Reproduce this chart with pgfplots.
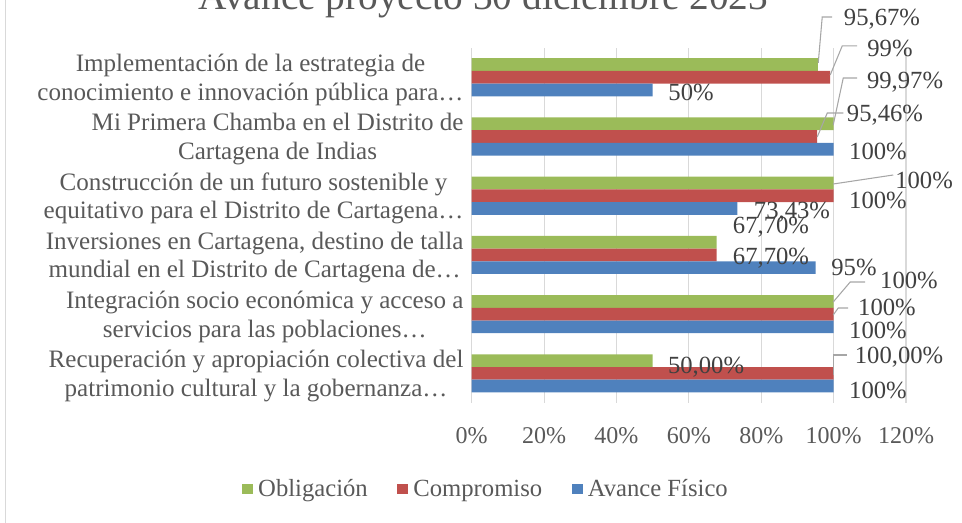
\documentclass[border=0pt]{standalone}
\usepackage{fontspec}
\setmainfont{Liberation Serif}
\usepackage{pgfplots}
\pgfplotsset{compat=1.18}
\definecolor{cG}{HTML}{9BBB59}
\definecolor{cR}{HTML}{C0504D}
\definecolor{cB}{HTML}{4F81BD}
\definecolor{txt}{HTML}{595959}
\definecolor{lbl}{HTML}{404040}
\definecolor{grd}{HTML}{D9D9D9}
\definecolor{lead}{HTML}{A6A6A6}
\begin{document}
\begin{tikzpicture}[x=1pt,y=1pt]
\useasboundingbox (0,0) rectangle (721.5,392.25);
\draw[grd, line width=1.1pt] (4.1,0) -- (4.1,392.25);
\node[anchor=base, text=txt, font=\fontsize{29.5}{35}\selectfont] at (362.6,385.1) {Avance proyecto 30 diciembre 2023};
\begin{axis}[
  at={(353.8pt,90pt)}, anchor=south west,
  scale only axis, width=325.7pt, height=266.5pt,
  xmin=0, xmax=120, ymin=-0.5, ymax=5.5,
  clip=false,
  axis line style={draw=none},
  major tick length=0pt,
  xtick={0,20,40,60,80,100,120},
  xticklabels={0\%,20\%,40\%,60\%,80\%,100\%,120\%},
  xmajorgrids, grid style={grd, line width=0.8pt},
  xticklabel style={anchor=center, yshift=-24.5pt, text=txt, font=\fontsize{18}{21}\selectfont},
  ytick={0,1,2,3,4,5},
  yticklabels={
    {Recuperación y apropiación colectiva del\\patrimonio cultural y la gobernanza…},
    {Integración socio económica y acceso a\\servicios para las poblaciones…},
    {Inversiones en Cartagena, destino de talla\\mundial en el Distrito de Cartagena de…},
    {Construcción de un futuro sostenible y\\equitativo para el Distrito de Cartagena…},
    {Mi Primera Chamba en el Distrito de\\Cartagena de Indias},
    {Implementación de la estrategia de\\conocimiento e innovación pública para…}},
  yticklabel style={align=center, text=txt, inner xsep=6pt, yshift=-2pt, font=\fontsize{18.8}{21.5}\selectfont},
  legend columns=3,
  legend image code/.code={\fill[#1] (0pt,-4.1pt) rectangle (8.2pt,4.1pt);},
  legend style={draw=none, fill=none, at={(0.0364,-0.242)}, anchor=center,
    font=\fontsize{18.5}{21}\selectfont, text=txt,
    nodes={inner xsep=4pt},
    /tikz/every even column/.append style={column sep=18pt}},
]
\addplot[xbar, bar width=0.2145, bar shift=0.2145, fill=cG, draw=none] coordinates {(50,0) (100,1) (67.70,2) (100,3) (99.97,4) (95.67,5)};
\addlegendentry{Obligación}
\addplot[xbar, bar width=0.2145, bar shift=0, fill=cR, draw=none] coordinates {(100,0) (100,1) (67.70,2) (100,3) (95.46,4) (99,5)};
\addlegendentry{Compromiso}
\addplot[xbar, bar width=0.2145, bar shift=-0.2145, fill=cB, draw=none] coordinates {(100,0) (100,1) (95,2) (73.43,3) (100,4) (50,5)};
\addlegendentry{Avance Físico}
% leader lines
\draw[lead, line width=0.8pt] (axis cs:95.75,5.242) -- (axis cs:96.85,6.018) -- (axis cs:99.61,6.018);
\draw[lead, line width=0.8pt] (axis cs:99.06,5.039) -- (axis cs:102.37,5.529) -- (axis cs:106.52,5.529);
\draw[lead, line width=0.8pt] (axis cs:99.89,4.195) -- (axis cs:102.66,4.988) -- (axis cs:106.52,4.988);
\draw[lead, line width=0.8pt] (axis cs:95.47,3.992) -- (axis cs:98.24,4.397) -- (axis cs:102.66,4.397);
\draw[lead, line width=0.8pt] (axis cs:99.89,3.198) -- (axis cs:116.47,3.350);
\draw[lead, line width=0.8pt] (axis cs:99.89,1.206) -- (axis cs:104.58,1.543) -- (axis cs:108.73,1.543);
\draw[lead, line width=0.8pt] (axis cs:99.89,0.986) -- (axis cs:101.27,1.104) -- (axis cs:104.03,1.104);
\draw[lead, line width=0.8pt] (axis cs:99.89,-0.027) -- (axis cs:99.89,0.311) -- (axis cs:103.7,0.311);
% data labels
\addplot[forget plot, draw=none, mark=none,
  nodes near coords, point meta=explicit symbolic,
  nodes near coords style={anchor=center, text=lbl, font=\fontsize{18.5}{21}\selectfont, inner sep=0pt}]
coordinates {
 (113.37,5.985) [95,67\%]
 (115.58,5.495) [99\%]
 (60.60,4.752) [50\%]
 (119.73,4.921) [99,97\%]
 (114.20,4.364) [95,46\%]
 (112.26,3.739) [100\%]
 (124.98,3.266) [100\%]
 (112.26,2.928) [100\%]
 (88.50,2.725) [73,43\%]
 (82.70,2.472) [67,70\%]
 (82.70,1.949) [67,70\%]
 (105.63,1.797) [95\%]
 (120.83,1.577) [100\%]
 (114.75,1.121) [100\%]
 (112.26,0.733) [100\%]
 (118.07,0.277) [100,00\%]
 (64.74,0.108) [50,00\%]
 (112.26,-0.280) [100\%]
};
\end{axis}
\end{tikzpicture}
\end{document}
